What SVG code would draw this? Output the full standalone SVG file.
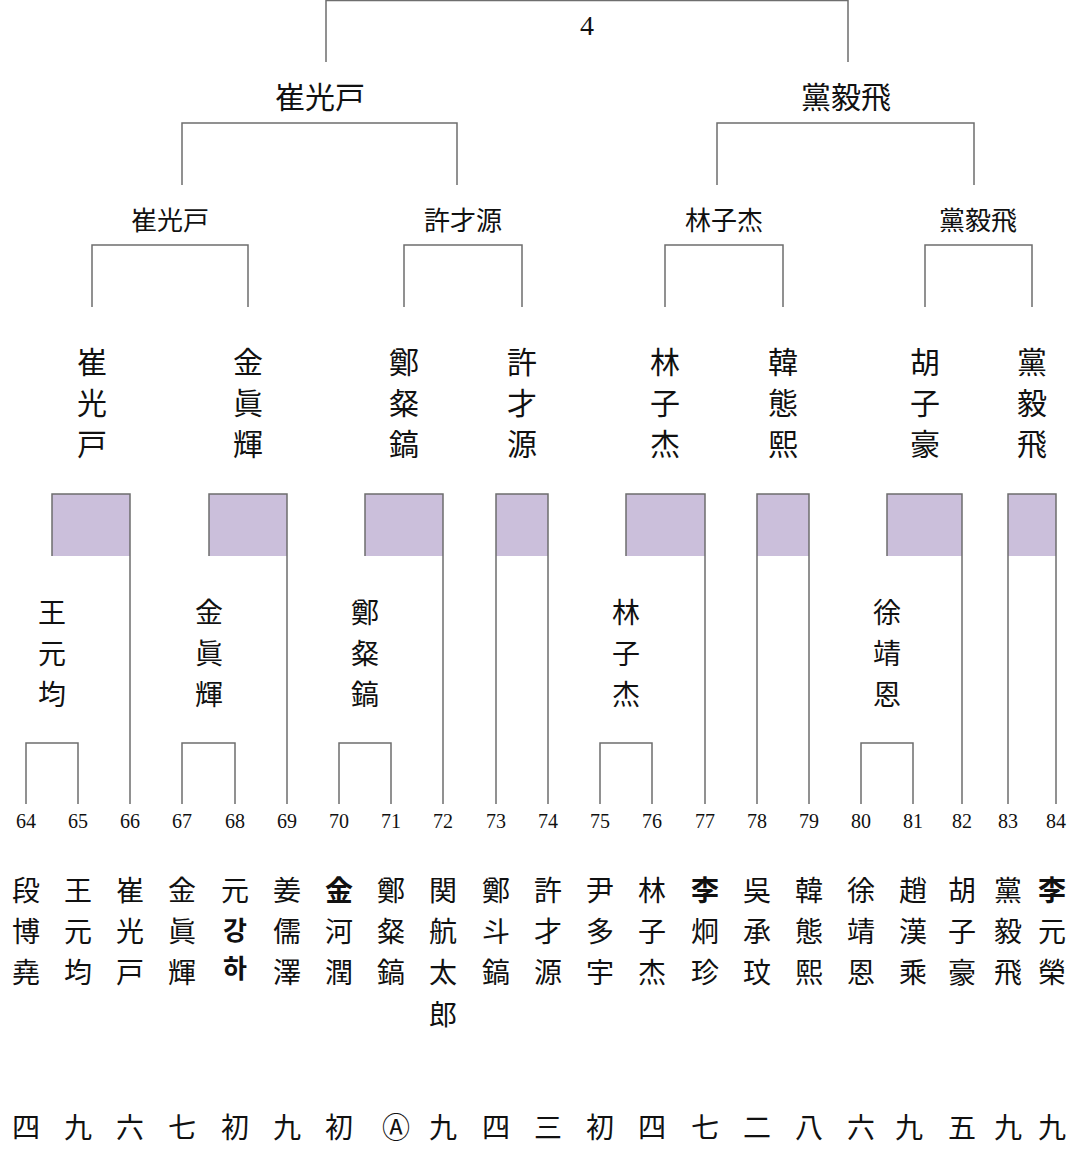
<svg xmlns="http://www.w3.org/2000/svg" width="1080" height="1163" viewBox="0 0 1080 1163">
<style>
.l{fill:none;stroke:#6e6e6e;stroke-width:1.5}
.r{fill:#cbbfdb;stroke:none}
text{font-family:"Noto Sans CJK JP","Noto Sans CJK SC",sans-serif;fill:#111;text-anchor:middle;dominant-baseline:central}
text.n,.n text{font-family:"Liberation Serif",serif;font-size:20px}
.t1{font-size:30px}.t2{font-size:26px}.t3{font-size:30px}.t4{font-size:28px}.b{font-size:28px}
.bd{font-weight:bold}
text.kr{font-family:"Noto Sans CJK KR",sans-serif;font-weight:bold;font-size:26px}
</style>
<rect width="1080" height="1163" fill="#fff"/>
<g id="shading">
<rect class="r" x="52" y="494" width="78" height="62"/>
<rect class="r" x="209" y="494" width="78" height="62"/>
<rect class="r" x="365" y="494" width="78" height="62"/>
<rect class="r" x="496" y="494" width="52" height="62"/>
<rect class="r" x="626" y="494" width="79" height="62"/>
<rect class="r" x="757" y="494" width="52" height="62"/>
<rect class="r" x="887" y="494" width="75" height="62"/>
<rect class="r" x="1008" y="494" width="48" height="62"/>
</g>
<g id="connectors">
<path class="l" d="M326 62V0.5H848V62"/>
<path class="l" d="M182 185V123H457V185M717 185V123H974V185"/>
<path class="l" d="M92 307V245H248V307M404 307V245H522V307M665 307V245H783V307M925 307V245H1032V307"/>
<path class="l" d="M52 556V494H130V804M209 556V494H287V804M365 556V494H443V804M496 804V494H548V804M626 556V494H705V804M757 804V494H809V804M887 556V494H962V804M1008 804V494H1056V804"/>
<path class="l" d="M26 804V743H78V804M182 804V743H235V804M339 804V743H391V804M600 804V743H652V804M861 804V743H913V804"/>
</g>
<g id="final"><text class="n" x="587" y="25" style="font-size:28px">4</text></g>
<g id="semis">
<text class="t1" x="320" y="95">崔光戸</text>
<text class="t1" x="846" y="95">黨毅飛</text>
</g>
<g id="quarters">
<text class="t2" x="170" y="218">崔光戸</text>
<text class="t2" x="463" y="218">許才源</text>
<text class="t2" x="724" y="218">林子杰</text>
<text class="t2" x="978" y="218">黨毅飛</text>
</g>
<g id="round16">
<g class="t3">
<text x="92" y="360">崔</text><text x="92" y="401">光</text><text x="92" y="442">戸</text>
<text x="248" y="360">金</text><text x="248" y="401">眞</text><text x="248" y="442">輝</text>
<text x="404" y="360">鄭</text><text x="404" y="401">粲</text><text x="404" y="442">鎬</text>
<text x="522" y="360">許</text><text x="522" y="401">才</text><text x="522" y="442">源</text>
<text x="665" y="360">林</text><text x="665" y="401">子</text><text x="665" y="442">杰</text>
<text x="783" y="360">韓</text><text x="783" y="401">態</text><text x="783" y="442">熙</text>
<text x="925" y="360">胡</text><text x="925" y="401">子</text><text x="925" y="442">豪</text>
<text x="1032" y="360">黨</text><text x="1032" y="401">毅</text><text x="1032" y="442">飛</text>
</g>
</g>
<g id="round1">
<g class="t4">
<text x="52" y="611">王</text><text x="52" y="652">元</text><text x="52" y="693">均</text>
<text x="209" y="611">金</text><text x="209" y="652">眞</text><text x="209" y="693">輝</text>
<text x="365" y="611">鄭</text><text x="365" y="652">粲</text><text x="365" y="693">鎬</text>
<text x="626" y="611">林</text><text x="626" y="652">子</text><text x="626" y="693">杰</text>
<text x="887" y="611">徐</text><text x="887" y="652">靖</text><text x="887" y="693">恩</text>
</g>
</g>
<g id="numbers" class="n">
<text x="26" y="821">64</text><text x="78" y="821">65</text><text x="130" y="821">66</text><text x="182" y="821">67</text><text x="235" y="821">68</text><text x="287" y="821">69</text><text x="339" y="821">70</text><text x="391" y="821">71</text><text x="443" y="821">72</text><text x="496" y="821">73</text><text x="548" y="821">74</text><text x="600" y="821">75</text><text x="652" y="821">76</text><text x="705" y="821">77</text><text x="757" y="821">78</text><text x="809" y="821">79</text><text x="861" y="821">80</text><text x="913" y="821">81</text><text x="962" y="821">82</text><text x="1008" y="821">83</text><text x="1056" y="821">84</text>
</g>
<g id="players" class="b">
<text x="26" y="889">段</text><text x="26" y="930">博</text><text x="26" y="971">堯</text>
<text x="78" y="889">王</text><text x="78" y="930">元</text><text x="78" y="971">均</text>
<text x="130" y="889">崔</text><text x="130" y="930">光</text><text x="130" y="971">戸</text>
<text x="182" y="889">金</text><text x="182" y="930">眞</text><text x="182" y="971">輝</text>
<text x="235" y="889">元</text><text class="kr" x="235" y="928">강</text><text class="kr" x="235" y="966">하</text>
<text x="287" y="889">姜</text><text x="287" y="930">儒</text><text x="287" y="971">澤</text>
<text class="bd" x="339" y="889">金</text><text x="339" y="930">河</text><text x="339" y="971">潤</text>
<text x="391" y="889">鄭</text><text x="391" y="930">粲</text><text x="391" y="971">鎬</text>
<text x="443" y="889">関</text><text x="443" y="930">航</text><text x="443" y="971">太</text><text x="443" y="1013">郎</text>
<text x="496" y="889">鄭</text><text x="496" y="930">斗</text><text x="496" y="971">鎬</text>
<text x="548" y="889">許</text><text x="548" y="930">才</text><text x="548" y="971">源</text>
<text x="600" y="889">尹</text><text x="600" y="930">多</text><text x="600" y="971">宇</text>
<text x="652" y="889">林</text><text x="652" y="930">子</text><text x="652" y="971">杰</text>
<text class="bd" x="705" y="889">李</text><text x="705" y="930">炯</text><text x="705" y="971">珍</text>
<text x="757" y="889">吳</text><text x="757" y="930">承</text><text x="757" y="971">玟</text>
<text x="809" y="889">韓</text><text x="809" y="930">態</text><text x="809" y="971">熙</text>
<text x="861" y="889">徐</text><text x="861" y="930">靖</text><text x="861" y="971">恩</text>
<text x="913" y="889">趙</text><text x="913" y="930">漢</text><text x="913" y="971">乘</text>
<text x="962" y="889">胡</text><text x="962" y="930">子</text><text x="962" y="971">豪</text>
<text x="1008" y="889">黨</text><text x="1008" y="930">毅</text><text x="1008" y="971">飛</text>
<text class="bd" x="1052" y="889">李</text><text x="1052" y="930">元</text><text x="1052" y="971">榮</text>
</g>
<g id="ranks" class="b">
<text x="26" y="1126">四</text><text x="78" y="1126">九</text><text x="130" y="1126">六</text><text x="182" y="1126">七</text><text x="235" y="1126">初</text><text x="287" y="1126">九</text><text x="339" y="1126">初</text><text x="396" y="1126">Ⓐ</text><text x="443" y="1126">九</text><text x="496" y="1126">四</text><text x="548" y="1126">三</text><text x="600" y="1126">初</text><text x="652" y="1126">四</text><text x="705" y="1126">七</text><text x="757" y="1126">二</text><text x="809" y="1126">八</text><text x="861" y="1126">六</text><text x="909" y="1126">九</text><text x="962" y="1126">五</text><text x="1008" y="1126">九</text><text x="1052" y="1126">九</text>
</g>
</svg>
